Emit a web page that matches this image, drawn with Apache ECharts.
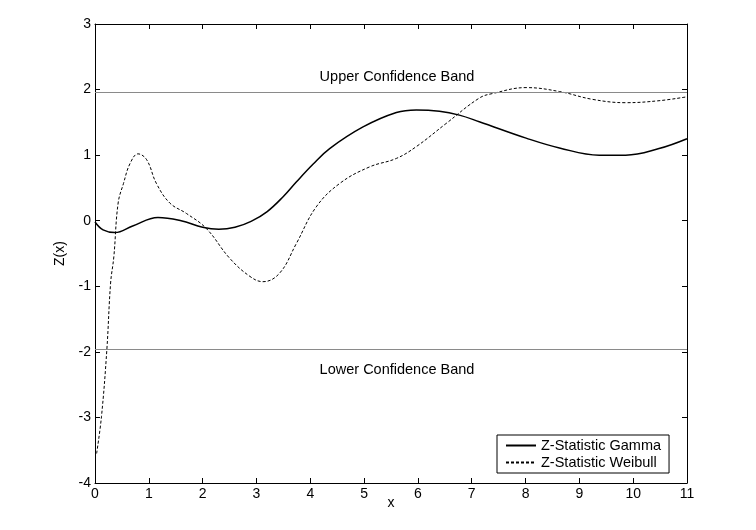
<!DOCTYPE html>
<html>
<head>
<meta charset="utf-8">
<script src="https://cdn.jsdelivr.net/npm/echarts@6/dist/echarts.min.js"></script>
<style>
	html, body { margin: 0; padding: 0; background: #fff; }
	#chart { width: 756px; height: 530px; }
</style>
</head>
<body>
<div id="chart"></div>
<script>
// 读图得到的数据
var gammaX = [0, 0.15, 0.37, 0.7, 1.17, 1.6, 2.0, 2.3, 2.6, 2.9, 3.2, 3.5, 3.74, 4.05, 4.36, 4.98, 5.6, 5.97, 6.4, 6.77, 7.14, 8.01, 8.63, 9.37, 9.86, 10.48, 11];
var gammaY = [-0.02, -0.14, -0.18, -0.08, 0.05, 0.0, -0.1, -0.13, -0.1, -0.01, 0.14, 0.37, 0.59, 0.86, 1.1, 1.43, 1.65, 1.69, 1.67, 1.61, 1.51, 1.26, 1.11, 1.0, 1.0, 1.1, 1.25];

var weibullX = [0.03, 0.12, 0.22, 0.29, 0.35, 0.43, 0.53, 0.65, 0.8, 0.96, 1.14, 1.39, 1.7, 2.07, 2.5, 2.88, 3.12, 3.43, 3.74, 4.11, 4.55, 5.1, 5.6, 5.97, 6.52, 7.14, 7.39, 8.01, 8.63, 9.25, 9.86, 10.48, 11];
var weibullY = [-3.55, -2.99, -1.97, -0.95, -0.55, 0.27, 0.57, 0.87, 1.02, 0.93, 0.57, 0.27, 0.11, -0.12, -0.57, -0.85, -0.93, -0.8, -0.35, 0.21, 0.57, 0.82, 0.95, 1.13, 1.48, 1.87, 1.94, 2.03, 1.97, 1.85, 1.8, 1.83, 1.89];

var upperBand = 1.96;
var lowerBand = -1.96;
var seriesNames = ['Z-Statistic Gamma', 'Z-Statistic Weibull'];

function pairs(xs, ys) {
	var out = [];
	for (var i = 0; i < xs.length; i++) {
		out.push([xs[i], ys[i]]);
	}
	return out;
}

var font = 'Liberation Sans, Arial, sans-serif';
var chart = echarts.init(document.getElementById('chart'));

var axisCommon = {
	axisLine: { show: true, onZero: false, lineStyle: { color: '#000', width: 1 } },
	axisTick: { show: true, inside: true, length: 5, lineStyle: { color: '#000' } },
	splitLine: { show: false }
};

chart.setOption({
	backgroundColor: '#fff',
	animation: false,
	grid: { left: 95, right: 69, top: 24, bottom: 47 },
	xAxis: [
		Object.assign({
			type: 'value', min: 0, max: 11, interval: 1, position: 'bottom',
			name: 'x', nameLocation: 'middle', nameGap: 13, nameMoveOverlap: false,
			nameTextStyle: { fontFamily: font, fontSize: 14, color: '#000' },
			axisLabel: { fontFamily: font, fontSize: 14, color: '#000', margin: 4 }
		}, axisCommon),
		Object.assign({
			type: 'value', min: 0, max: 11, interval: 1, position: 'top',
			axisLabel: { show: false }
		}, axisCommon)
	],
	yAxis: [
		Object.assign({
			type: 'value', min: -4, max: 3, interval: 1, position: 'left',
			name: 'Z(x)', nameLocation: 'middle', nameGap: 28, nameMoveOverlap: false,
			nameTextStyle: { fontFamily: font, fontSize: 14, color: '#000' },
			axisLabel: { fontFamily: font, fontSize: 14, color: '#000', margin: 4 }
		}, axisCommon),
		Object.assign({
			type: 'value', min: -4, max: 3, interval: 1, position: 'right',
			axisLabel: { show: false }
		}, axisCommon)
	],
	legend: {
		orient: 'vertical',
		left: 497, top: 435,
		padding: [3, 8, 3, 8],
		itemGap: 2,
		itemWidth: 30, itemHeight: 12,
		borderColor: '#000', borderWidth: 1,
		backgroundColor: '#fff',
		itemStyle: { opacity: 0 },
		textStyle: { fontFamily: font, fontSize: 14.5, color: '#000' },
		data: seriesNames
	},
	series: [
		{
			name: seriesNames[0],
			type: 'line',
			smooth: 0.4,
			symbol: 'none',
			lineStyle: { color: '#000', width: 1.5 },
			itemStyle: { color: '#000' },
			data: pairs(gammaX, gammaY),
			markLine: {
				silent: true,
				symbol: 'none',
				lineStyle: { color: '#8a8a8a', width: 1, type: 'solid' },
				label: { fontFamily: font, fontSize: 14.5, color: '#000', formatter: '{b}', offset: [6, 0] },
				data: [
					{ name: 'Upper Confidence Band', yAxis: upperBand,
						label: { position: 'insideMiddleTop', distance: 8 } },
					{ name: 'Lower Confidence Band', yAxis: lowerBand,
						label: { position: 'insideMiddleBottom', distance: 13 } }
				]
			}
		},
		{
			name: seriesNames[1],
			type: 'line',
			smooth: 0.4,
			symbol: 'none',
			lineStyle: { color: '#000', width: 1, type: [3, 2] },
			itemStyle: { color: '#000' },
			data: pairs(weibullX, weibullY)
		}
	]
});
</script>
</body>
</html>
